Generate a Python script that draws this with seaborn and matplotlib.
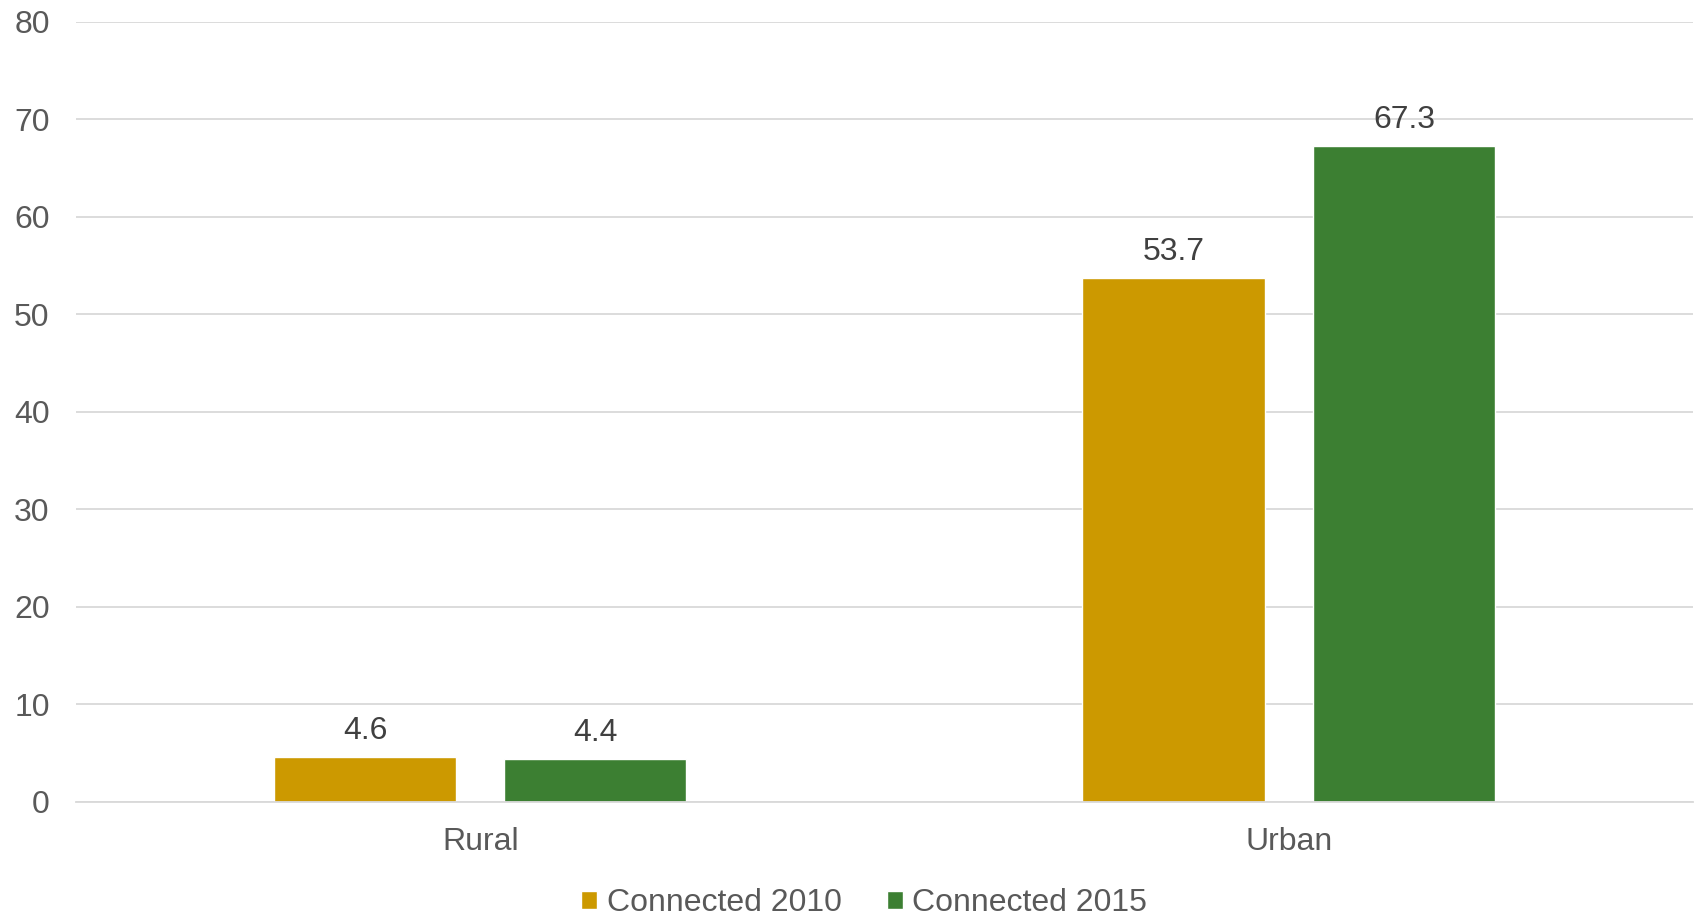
import matplotlib
matplotlib.use("Agg")
import matplotlib.pyplot as plt
import seaborn as sns
import pandas as pd
from matplotlib.patches import Patch

# Household connection rates (%) by area
areas = ["Rural", "Urban"]
series = ["Connected 2010", "Connected 2015"]
connected_2010 = [4.6, 53.7]
connected_2015 = [4.4, 67.3]
y_ticks = [0, 10, 20, 30, 40, 50, 60, 70, 80]

colors = {"Connected 2010": "#CC9900", "Connected 2015": "#3C7F32"}
text_color = "#595959"

df = pd.DataFrame({
    "area": areas * 2,
    "series": [series[0]] * len(areas) + [series[1]] * len(areas),
    "value": connected_2010 + connected_2015,
})

sns.set_theme(style="white")
plt.rcParams["font.family"] = ["Liberation Sans", "DejaVu Sans"]

fig = plt.figure(figsize=(16.98, 9.16), dpi=100)
ax = fig.add_axes([0.0448, 0.1245, 0.9522, 0.8515])

sns.barplot(data=df, x="area", y="value", hue="series", order=areas,
            hue_order=series, palette=colors, width=0.57, gap=0.21,
            saturation=1, errorbar=None, legend=False, ax=ax)

for container in ax.containers:
    ax.bar_label(container, fmt="%.1f", padding=8, fontsize=23,
                 color="#404040")

ax.set_ylim(0, 80)
ax.set_yticks(y_ticks)
ax.set_xlim(-0.5, 1.5)
ax.yaxis.grid(True, color="#D9D9D9", linewidth=1.3)
ax.set_axisbelow(True)
for side in ["top", "right", "left"]:
    ax.spines[side].set_visible(False)
ax.spines["bottom"].set_color("#D9D9D9")
ax.spines["bottom"].set_linewidth(1.3)
ax.set_xlabel("")
ax.set_ylabel("")
ax.tick_params(axis="both", length=0, labelsize=23, labelcolor=text_color)
ax.tick_params(axis="x", pad=18)
ax.tick_params(axis="y", pad=19)

handles = [Patch(facecolor=colors[s], label=s) for s in series]
fig.legend(handles=handles, loc="center", bbox_to_anchor=(0.509, 0.014),
           ncol=2, frameon=False, fontsize=23, labelcolor=text_color,
           handlelength=0.5, handleheight=0.5, handletextpad=0.3,
           columnspacing=1.4)

fig.savefig("out.png", dpi=100)
